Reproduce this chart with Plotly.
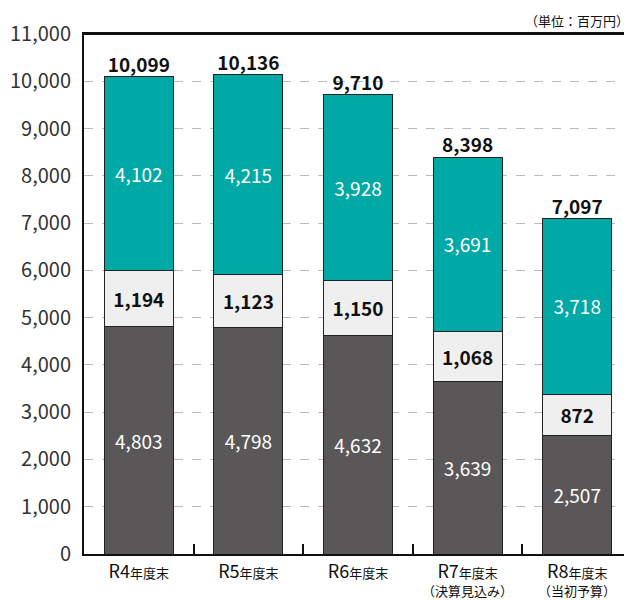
import plotly.graph_objects as go

categories = ["R4年度末", "R5年度末", "R6年度末", "R7年度末（決算見込み）", "R8年度末（当初予算）"]
tick_labels = [
    "R4<span style='font-size:13px'>年度末</span>",
    "R5<span style='font-size:13px'>年度末</span>",
    "R6<span style='font-size:13px'>年度末</span>",
    "R7<span style='font-size:13px'>年度末</span>",
    "R8<span style='font-size:13px'>年度末</span>",
]
sub_labels = ["", "", "", "（決算見込み）", "（当初予算）"]
bottom_vals = [4803, 4798, 4632, 3639, 2507]
middle_vals = [1194, 1123, 1150, 1068, 872]
top_vals = [4102, 4215, 3928, 3691, 3718]
totals = [10099, 10136, 9710, 8398, 7097]
y_ticks = list(range(0, 11001, 1000))

FONT = "Noto Sans CJK JP"
fig = go.Figure()
line = dict(color="#222222", width=1)
fig.add_bar(x=categories, y=bottom_vals, marker=dict(color="#595757", line=line),
            texttemplate="%{y:,d}", textposition="inside", insidetextanchor="middle",
            textfont=dict(color="white", size=20, family=FONT), textangle=0)
fig.add_bar(x=categories, y=middle_vals, marker=dict(color="#EFEFEF", line=line),
            texttemplate="<b>%{y:,d}</b>", textposition="inside", insidetextanchor="middle",
            textfont=dict(color="#111111", size=19, family=FONT), textangle=0)
fig.add_bar(x=categories, y=top_vals, marker=dict(color="#00A9A5", line=line),
            texttemplate="%{y:,d}", textposition="inside", insidetextanchor="middle",
            textfont=dict(color="white", size=20, family=FONT), textangle=0)
fig.add_scatter(x=categories, y=totals, mode="text", text=[f"<b>{v:,}</b>" for v in totals],
                textposition="top center", textfont=dict(color="#111111", size=19, family=FONT),
                hoverinfo="skip", cliponaxis=False)

fig.update_layout(
    barmode="stack", bargap=0.37, showlegend=False,
    width=624, height=592, margin=dict(l=76, r=0, t=26, b=46),
    plot_bgcolor="white", paper_bgcolor="white",
    font=dict(family=FONT, color="#222222"),
    uniformtext=dict(minsize=10, mode="show"),
)
fig.update_xaxes(
    tickvals=categories, ticktext=tick_labels, tickfont=dict(size=18, color="#111111"),
    showline=True, linecolor="#111111", linewidth=2, mirror=True,
    ticks="inside", tickson="boundaries", ticklen=10, tickcolor="#111111", tickwidth=2,
    showgrid=False, automargin=False,
)
fig.update_yaxes(
    range=[0, 11000], tickvals=y_ticks, tickformat=",d", tickfont=dict(size=20, color="#333333"),
    showline=True, linecolor="#111111", linewidth=2, ticks="", ticklabelstandoff=7,
    showgrid=True, gridcolor="#BBBBBB", griddash="dash", gridwidth=1, zeroline=False,
    automargin=False,
)
fig.add_shape(type="line", xref="paper", yref="paper", x0=0, x1=1, y0=1, y1=1,
              line=dict(color="#111111", width=2))
for c, s in zip(categories, sub_labels):
    if s:
        fig.add_annotation(text=s, x=c, xref="x", y=0, yref="paper", yanchor="top",
                           yshift=-25, showarrow=False,
                           font=dict(size=13, color="#111111", family=FONT))
fig.add_annotation(text="（単位：百万円）", xref="paper", yref="paper", x=1, y=1,
                   xanchor="right", yanchor="bottom", yshift=2, xshift=-1, showarrow=False,
                   font=dict(size=13, color="#111111", family=FONT))
fig.write_html("out.html")
